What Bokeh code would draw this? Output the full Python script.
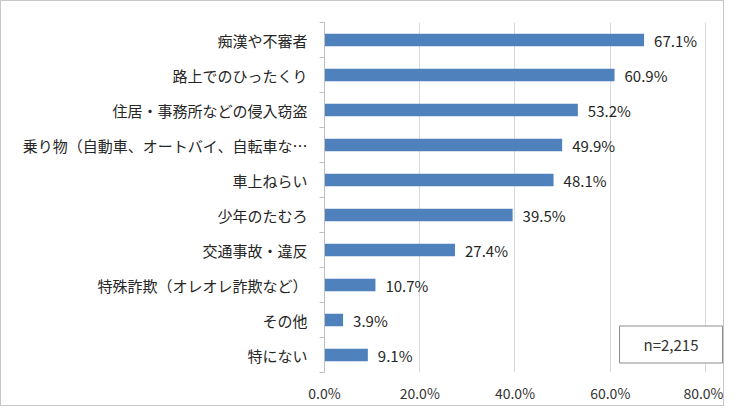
from bokeh.plotting import figure
from bokeh.models import Range1d, FixedTicker, PrintfTickFormatter, Label
from bokeh.core.properties import value
from bokeh.embed import file_html
from bokeh.resources import INLINE

categories = [
    "痴漢や不審者",
    "路上でのひったくり",
    "住居・事務所などの侵入窃盗",
    "乗り物（自動車、オートバイ、自転車な…",
    "車上ねらい",
    "少年のたむろ",
    "交通事故・違反",
    "特殊詐欺（オレオレ詐欺など）",
    "その他",
    "特にない",
]
values = [67.1, 60.9, 53.2, 49.9, 48.1, 39.5, 27.4, 10.7, 3.9, 9.1]
value_labels = [f"{v:.1f}%" for v in values]
x_ticks = [0, 20, 40, 60, 80]
n_note = "n=2,215"

FONT = "Noto Sans CJK JP"
n = len(categories)
ypos = [n - 1 - i for i in range(n)]

p = figure(
    output_backend="svg", toolbar_location=None,
    frame_width=399, frame_height=350,
    min_border_left=323, min_border_right=0, min_border_top=21, min_border_bottom=27,
    x_range=Range1d(0, 83.78), y_range=Range1d(-0.5, n - 0.5),
    styles={"border": "1px solid #c8c8c8"},
)
p.outline_line_color = None
p.background_fill_color = "white"
p.border_fill_color = "white"

p.hbar(y=ypos, left=0, right=values, height=0.36, fill_color="#4f81bd", line_color=None)
p.text(x=values, y=ypos, text=value_labels, x_offset=10, text_baseline="middle",
       text_align="left", text_font=value(FONT), text_font_size="15px", text_color="#262626")

# y axis
p.yaxis.ticker = FixedTicker(ticks=ypos, minor_ticks=[i - 0.5 for i in range(n + 1)])
p.yaxis.major_label_overrides = {y: c for y, c in zip(ypos, categories)}
p.yaxis.major_tick_out = 0
p.yaxis.major_tick_in = 0
p.yaxis.minor_tick_out = 5
p.yaxis.minor_tick_in = 0
p.yaxis.minor_tick_line_color = "#bfbfbf"
p.yaxis.axis_line_color = "#bfbfbf"
p.yaxis.major_label_standoff = 12
p.yaxis.major_label_text_font = FONT
p.yaxis.major_label_text_font_size = "15px"
p.yaxis.major_label_text_color = "#262626"
p.ygrid.grid_line_color = None

# x axis
p.xaxis.ticker = FixedTicker(ticks=x_ticks)
p.xaxis.formatter = PrintfTickFormatter(format="%.1f%%")
p.xaxis.axis_line_color = None
p.xaxis.major_tick_line_color = None
p.xaxis.minor_tick_line_color = None
p.xaxis.major_tick_out = 0
p.xaxis.minor_tick_out = 0
p.xaxis.major_label_standoff = 10
p.xaxis.major_label_text_font = FONT
p.xaxis.major_label_text_font_size = "14px"
p.xaxis.major_label_text_color = "#333333"
p.xgrid.grid_line_color = "#d9d9d9"

note = Label(x=72.76, y=0.3, text=n_note, text_align="center", text_baseline="middle",
             text_font=FONT, text_font_size="15px", text_color="#333333",
             border_line_color="#8c8c8c", background_fill_color="white",
             padding=(24, 8))
p.add_layout(note)

open("out.html", "w").write(file_html(p, INLINE))
